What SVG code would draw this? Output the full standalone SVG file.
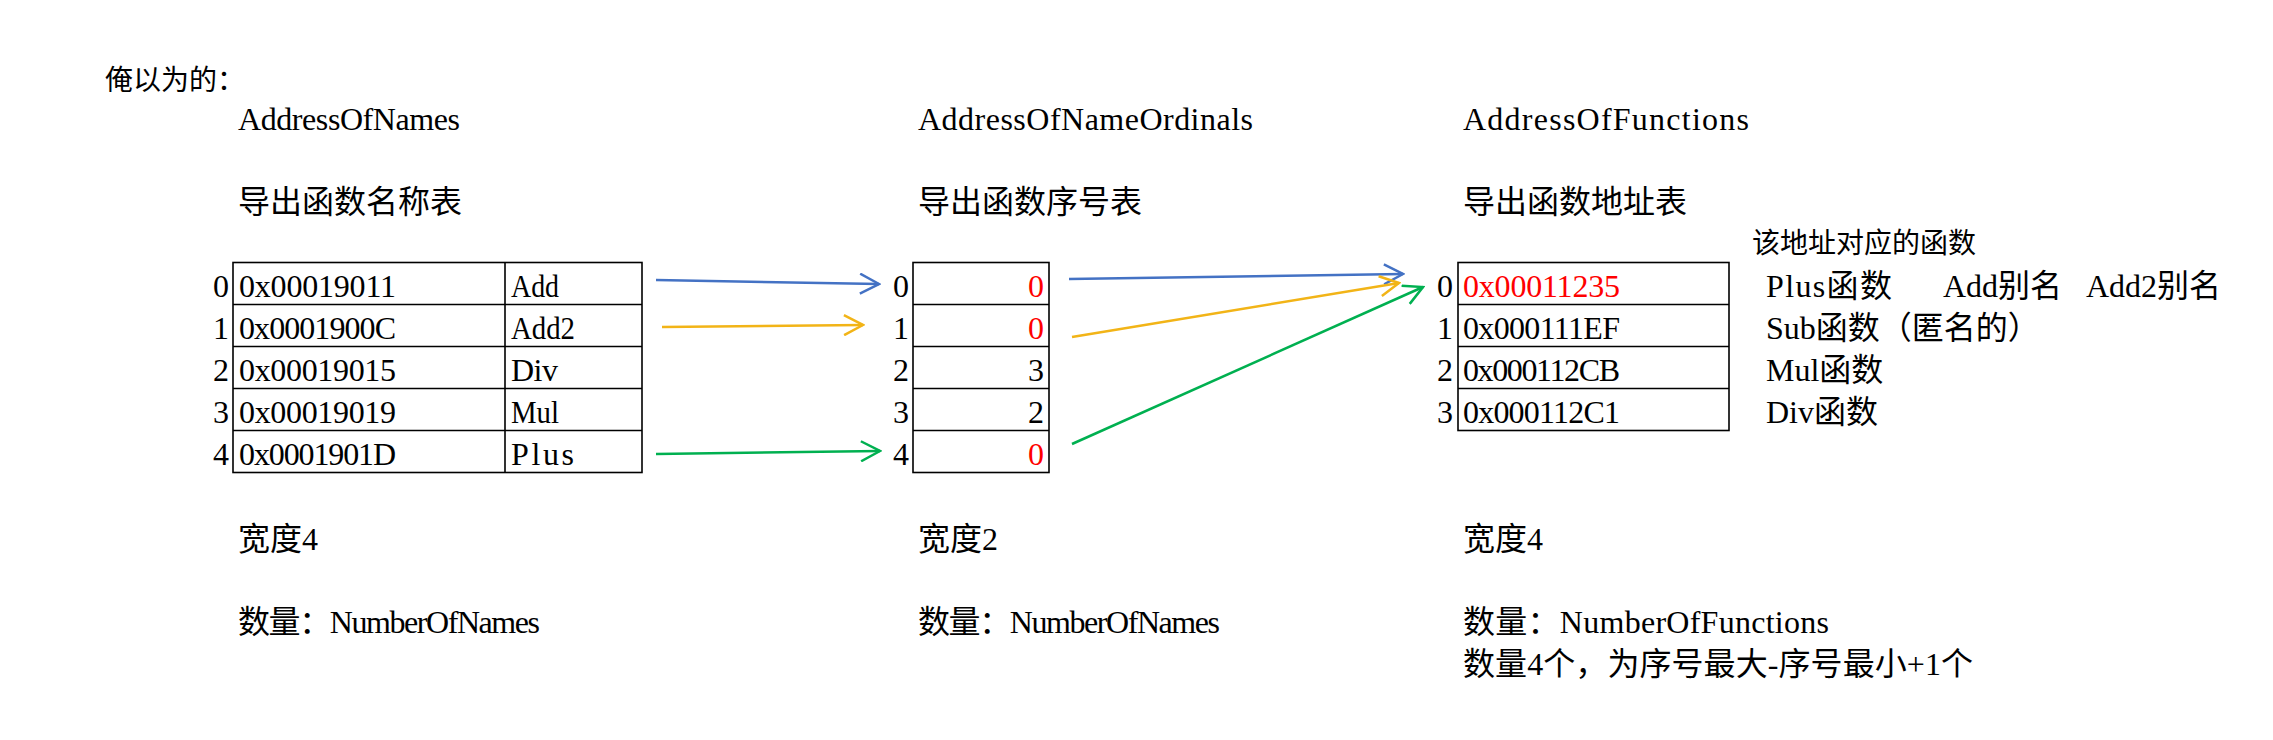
<svg xmlns="http://www.w3.org/2000/svg" width="2273" height="740" viewBox="0 0 2273 740">
<style>
.t{font-family:'Liberation Serif','Noto Sans CJK SC',serif;font-size:32px;fill:#000}
.s{font-size:28px}
.red{fill:#FF0000}
.cell{fill:none;stroke:#000;stroke-width:1.6}
.c{fill:none;stroke-width:2.5}
</style>
<defs>
<marker id="mb" viewBox="0 0 22 22" refX="20" refY="11" markerWidth="22" markerHeight="22" markerUnits="userSpaceOnUse" orient="auto"><path d="M1,1 L20,11 L1,21" fill="none" stroke="#4472C4" stroke-width="2.5"/></marker>
<marker id="my" viewBox="0 0 22 22" refX="20" refY="11" markerWidth="22" markerHeight="22" markerUnits="userSpaceOnUse" orient="auto"><path d="M1,1 L20,11 L1,21" fill="none" stroke="#F2B417" stroke-width="2.5"/></marker>
<marker id="mg" viewBox="0 0 22 22" refX="20" refY="11" markerWidth="22" markerHeight="22" markerUnits="userSpaceOnUse" orient="auto"><path d="M1,1 L20,11 L1,21" fill="none" stroke="#00B050" stroke-width="2.5"/></marker>
</defs>
<rect width="2273" height="740" fill="#fff"/>

<g id="title">
<text class="t s" x="105" y="90">俺以为的：</text>
</g>

<g id="names-table">
<text class="t" x="238" y="130" textLength="222" lengthAdjust="spacing">AddressOfNames</text>
<text class="t" x="238" y="213">导出函数名称表</text>
<rect class="cell" x="233" y="262.5" width="409" height="210"/>
<path class="cell" d="M505,262.5V472.5M233,304.5H642M233,346.5H642M233,388.5H642M233,430.5H642"/>
<text class="t" x="213" y="296.5">0</text>
<text class="t" x="213" y="338.5">1</text>
<text class="t" x="213" y="380.5">2</text>
<text class="t" x="213" y="422.5">3</text>
<text class="t" x="213" y="464.5">4</text>
<text class="t" x="239" y="296.5" textLength="157" lengthAdjust="spacing">0x00019011</text>
<text class="t" x="239" y="338.5" textLength="157" lengthAdjust="spacing">0x0001900C</text>
<text class="t" x="239" y="380.5" textLength="157" lengthAdjust="spacing">0x00019015</text>
<text class="t" x="239" y="422.5" textLength="157" lengthAdjust="spacing">0x00019019</text>
<text class="t" x="239" y="464.5" textLength="157" lengthAdjust="spacing">0x0001901D</text>
<text class="t" x="511" y="296.5" textLength="48" lengthAdjust="spacingAndGlyphs">Add</text>
<text class="t" x="511" y="338.5" textLength="64" lengthAdjust="spacingAndGlyphs">Add2</text>
<text class="t" x="511" y="380.5" textLength="47" lengthAdjust="spacing">Div</text>
<text class="t" x="511" y="422.5" textLength="48" lengthAdjust="spacingAndGlyphs">Mul</text>
<text class="t" x="511" y="464.5" textLength="63" lengthAdjust="spacing">Plus</text>
<text class="t" x="238" y="550">宽度4</text>
<text class="t" x="238" y="633" textLength="302" lengthAdjust="spacing">数量：NumberOfNames</text>
</g>

<g id="ordinals-table">
<text class="t" x="918" y="130" textLength="335" lengthAdjust="spacing">AddressOfNameOrdinals</text>
<text class="t" x="918" y="213">导出函数序号表</text>
<rect class="cell" x="913" y="262.5" width="136" height="210"/>
<path class="cell" d="M913,304.5H1049M913,346.5H1049M913,388.5H1049M913,430.5H1049"/>
<text class="t" x="893" y="296.5">0</text>
<text class="t" x="893" y="338.5">1</text>
<text class="t" x="893" y="380.5">2</text>
<text class="t" x="893" y="422.5">3</text>
<text class="t" x="893" y="464.5">4</text>
<text class="t red" x="1044" y="296.5" text-anchor="end">0</text>
<text class="t red" x="1044" y="338.5" text-anchor="end">0</text>
<text class="t" x="1044" y="380.5" text-anchor="end">3</text>
<text class="t" x="1044" y="422.5" text-anchor="end">2</text>
<text class="t red" x="1044" y="464.5" text-anchor="end">0</text>
<text class="t" x="918" y="550">宽度2</text>
<text class="t" x="918" y="633" textLength="302" lengthAdjust="spacing">数量：NumberOfNames</text>
</g>

<g id="functions-table">
<text class="t" x="1463" y="130" textLength="286" lengthAdjust="spacing">AddressOfFunctions</text>
<text class="t" x="1463" y="213">导出函数地址表</text>
<rect class="cell" x="1458" y="262.5" width="271" height="168"/>
<path class="cell" d="M1458,304.5H1729M1458,346.5H1729M1458,388.5H1729"/>
<text class="t" x="1437" y="296.5">0</text>
<text class="t" x="1437" y="338.5">1</text>
<text class="t" x="1437" y="380.5">2</text>
<text class="t" x="1437" y="422.5">3</text>
<text class="t red" x="1463" y="296.5" textLength="157" lengthAdjust="spacing">0x00011235</text>
<text class="t" x="1463" y="338.5" textLength="157" lengthAdjust="spacing">0x000111EF</text>
<text class="t" x="1463" y="380.5" textLength="157" lengthAdjust="spacing">0x000112CB</text>
<text class="t" x="1463" y="422.5" textLength="157" lengthAdjust="spacing">0x000112C1</text>
<text class="t" x="1463" y="550">宽度4</text>
<text class="t" x="1463" y="633" textLength="366" lengthAdjust="spacing">数量：NumberOfFunctions</text>
<text class="t" x="1463" y="675" textLength="510" lengthAdjust="spacing">数量4个，为序号最大-序号最小+1个</text>
</g>

<g id="function-notes">
<text class="t s" x="1752" y="253">该地址对应的函数</text>
<text class="t" x="1766" y="296.5" textLength="126" lengthAdjust="spacing">Plus函数</text>
<text class="t" x="1943" y="296.5">Add别名</text>
<text class="t" x="2086" y="296.5">Add2别名</text>
<text class="t" x="1766" y="338.5">Sub函数（匿名的）</text>
<text class="t" x="1766" y="380.5">Mul函数</text>
<text class="t" x="1766" y="422.5">Div函数</text>
</g>

<g id="connectors">
<line class="c" x1="656" y1="280" x2="879" y2="284" stroke="#4472C4" marker-end="url(#mb)"/>
<line class="c" x1="662" y1="327" x2="863" y2="325" stroke="#F2B417" marker-end="url(#my)"/>
<line class="c" x1="656" y1="454" x2="880" y2="451" stroke="#00B050" marker-end="url(#mg)"/>
<line class="c" x1="1069" y1="279" x2="1403" y2="274" stroke="#4472C4" marker-end="url(#mb)"/>
<line class="c" x1="1072" y1="337" x2="1399" y2="283" stroke="#F2B417" marker-end="url(#my)"/>
<line class="c" x1="1072" y1="444" x2="1423" y2="287" stroke="#00B050" marker-end="url(#mg)"/>
</g>
</svg>
